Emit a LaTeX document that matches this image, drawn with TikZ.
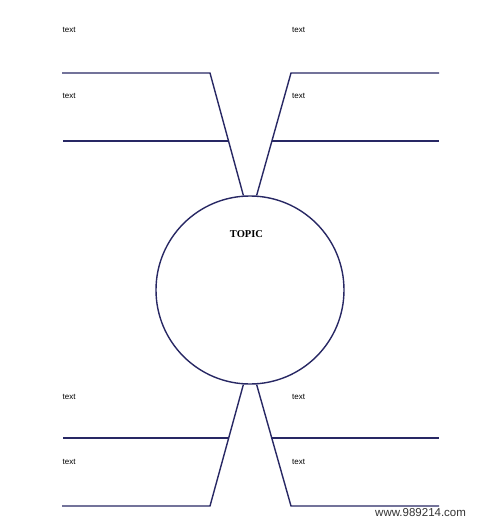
\documentclass[tikz,border=0pt]{standalone}
\usepackage{fontspec}
\setmainfont{Liberation Serif}
\newfontfamily\lsans{Liberation Sans}
\usetikzlibrary{calc}
\definecolor{navy}{RGB}{40,40,100}
\begin{document}
\begin{tikzpicture}[x=1pt,y=-1pt,
  branch/.style={draw=navy,line width=1.4pt},
  lbl/.style={font=\lsans\fontsize{8}{9}\selectfont,anchor=west,inner sep=0pt},
  hub/.style={draw=navy,line width=1.4pt,circle,minimum size=188pt,inner sep=0pt},
  wmark/.style={font=\lsans\fontsize{11.5}{13}\selectfont,text=black!80,anchor=base west,inner sep=0pt}]
\useasboundingbox (0,0) rectangle (481,520);
\fill[white] (0,0) rectangle (481,520);
\node[hub] (topic) at (250,290) {};
\node[font=\bfseries\fontsize{10.5}{12}\selectfont] (title) at (246.5,234) {TOPIC};
\coordinate (xl) at (63,0);
\coordinate (xr) at (438.5,0);
% top left
\coordinate (tlS) at (62,73);
\coordinate (tlE) at (210,73);
\draw[branch] (tlS) -- (tlE) -- (topic.94);
\coordinate (tlM) at ($(tlE)!0.556!(topic.94)$);
\draw[branch] (tlM) -- (tlM -| xl);
% top right
\coordinate (trS) at (439,73);
\coordinate (trE) at (291,73);
\draw[branch] (trS) -- (trE) -- (topic.86);
\coordinate (trM) at ($(trE)!0.556!(topic.86)$);
\draw[branch] (trM) -- (trM -| xr);
% bottom left
\coordinate (blS) at (62,506);
\coordinate (blE) at (210,506);
\draw[branch] (blS) -- (blE) -- (topic.266);
\coordinate (blM) at ($(topic.266)!0.441!(blE)$);
\draw[branch] (blM) -- (blM -| xl);
% bottom right
\coordinate (brS) at (439,506);
\coordinate (brE) at (291,506);
\draw[branch] (brS) -- (brE) -- (topic.274);
\coordinate (brM) at ($(topic.274)!0.441!(brE)$);
\draw[branch] (brM) -- (brM -| xr);
% labels
\node[lbl] (t1) at (62.5,30) {text};
\node[lbl] (t2) at (62.5,96) {text};
\node[lbl] (t3) at (292,30) {text};
\node[lbl] (t4) at (292,96) {text};
\node[lbl] (t5) at (62.5,397) {text};
\node[lbl] (t6) at (62.5,462) {text};
\node[lbl] (t7) at (292,397) {text};
\node[lbl] (t8) at (292,462) {text};
\node[wmark] (wm) at (375,516) {www.989214.com};
\end{tikzpicture}
\end{document}
